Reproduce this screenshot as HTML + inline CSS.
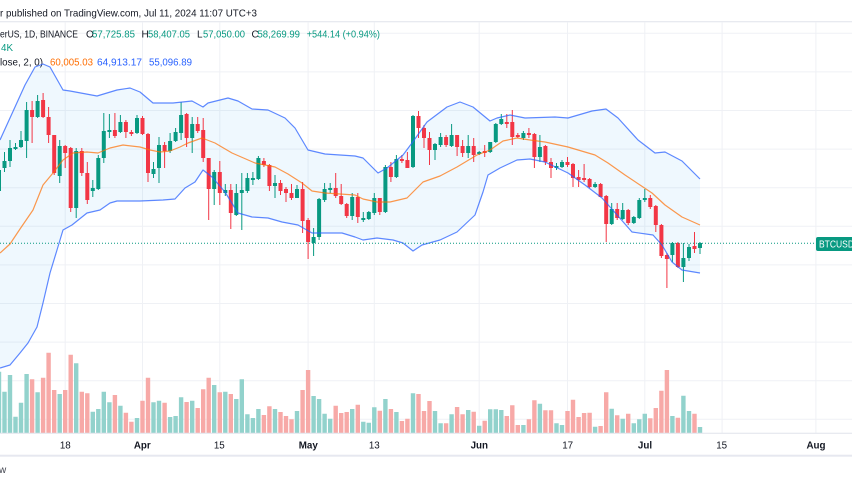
<!DOCTYPE html>
<html><head><meta charset="utf-8"><style>
html,body{margin:0;padding:0;background:#fff;width:852px;height:485px;overflow:hidden}
svg{display:block;font-family:"Liberation Sans",Arial,sans-serif}
</style></head><body>
<svg width="852" height="485" viewBox="0 0 852 485" xmlns="http://www.w3.org/2000/svg">
<rect width="852" height="485" fill="#fff"/>
<!-- header -->
<text x="0" y="16.4" font-size="10.2" fill="#131722" textLength="257" lengthAdjust="spacingAndGlyphs">r published on TradingView.com, Jul 11, 2024 11:07 UTC+3</text>
<line x1="0" y1="21.7" x2="852" y2="21.7" stroke="#e0e3eb" stroke-width="1"/>
<!-- grid -->
<g stroke="#eff1f5" stroke-width="1">
<line x1="0" y1="33.3" x2="852" y2="33.3"/><line x1="0" y1="71.9" x2="852" y2="71.9"/><line x1="0" y1="110.5" x2="852" y2="110.5"/><line x1="0" y1="149.1" x2="852" y2="149.1"/><line x1="0" y1="187.7" x2="852" y2="187.7"/><line x1="0" y1="226.3" x2="852" y2="226.3"/><line x1="0" y1="264.9" x2="852" y2="264.9"/><line x1="0" y1="303.5" x2="852" y2="303.5"/><line x1="0" y1="342.1" x2="852" y2="342.1"/><line x1="0" y1="380.7" x2="852" y2="380.7"/><line x1="0" y1="419.3" x2="852" y2="419.3"/>
<line x1="65.2" y1="22" x2="65.2" y2="433"/><line x1="142.5" y1="22" x2="142.5" y2="433"/><line x1="219.8" y1="22" x2="219.8" y2="433"/><line x1="308.1" y1="22" x2="308.1" y2="433"/><line x1="374.3" y1="22" x2="374.3" y2="433"/><line x1="479.2" y1="22" x2="479.2" y2="433"/><line x1="567.5" y1="22" x2="567.5" y2="433"/><line x1="644.8" y1="22" x2="644.8" y2="433"/><line x1="722.1" y1="22" x2="722.1" y2="433"/><line x1="815.9" y1="22" x2="815.9" y2="433"/>
</g>
<!-- header rows -->
<g font-size="10">
<text x="0" y="37.6" fill="#131722" textLength="78" lengthAdjust="spacingAndGlyphs">erUS, 1D, BINANCE</text>
<text x="86" y="37.6" fill="#131722">O</text><text x="92" y="37.6" fill="#089981" textLength="43" lengthAdjust="spacingAndGlyphs">57,725.85</text>
<text x="141.5" y="37.6" fill="#131722">H</text><text x="148" y="37.6" fill="#089981" textLength="42" lengthAdjust="spacingAndGlyphs">58,407.05</text>
<text x="197" y="37.6" fill="#131722">L</text><text x="203" y="37.6" fill="#089981" textLength="42" lengthAdjust="spacingAndGlyphs">57,050.00</text>
<text x="251.5" y="37.6" fill="#131722">C</text><text x="257.5" y="37.6" fill="#089981" textLength="42.5" lengthAdjust="spacingAndGlyphs">58,269.99</text>
<text x="306.7" y="37.6" fill="#089981" textLength="73.3" lengthAdjust="spacingAndGlyphs">+544.14 (+0.94%)</text>
<text x="1" y="50.9" fill="#089981" textLength="12" lengthAdjust="spacingAndGlyphs">4K</text>
<text x="0" y="65.3" fill="#131722" textLength="43" lengthAdjust="spacingAndGlyphs">lose, 2, 0)</text>
<text x="50" y="65.3" fill="#ff6d00" textLength="43" lengthAdjust="spacingAndGlyphs">60,005.03</text>
<text x="97" y="65.3" fill="#2962ff" textLength="45" lengthAdjust="spacingAndGlyphs">64,913.17</text>
<text x="149" y="65.3" fill="#2962ff" textLength="43" lengthAdjust="spacingAndGlyphs">55,096.89</text>
</g>
<!-- band fill -->
<polygon fill="#2196f3" fill-opacity="0.07" points="0,140 10,118 25,85 35,67 43,64 50,67 63,90 70,91 97,96 117,90 130,88 140,92 153,103 173,103 192,101 203,107 208,103 228,98 238,101 252,109 268,110 285,118 295,128 308,150 325,154 355,156 363,158 378,173 387,168 403,155 412,143 427,122 447,107 460,102 473,107 490,121 497,118 510,115 525,118 555,117 568,118 592,111 606,109 618,118 638,140 655,153 665,152 682,161 700,179 700,273 682,270 672,262 662,245 653,235 632,232 618,216 602,198 585,185 568,173 545,162 530,159 517,160 500,168 488,175 483,192 475,215 457,232 440,240 422,245 413,251 403,243 393,240 377,238 363,240 355,237 342,233 312,233 298,225 282,222 268,218 252,217 238,213 225,192 212,177 203,170 195,182 185,188 175,199 163,200 140,201 117,201 110,203 100,210 87,213 72,225 63,230 57,250 50,273 43,303 37,327 28,343 20,353 10,365 0,368"/>
<!-- volume -->
<path fill="#92d2cc" d="M-3.2 371.7h4.4V433h-4.4Z M2.3 391.7h4.4V433h-4.4Z M7.8 375h4.4V433h-4.4Z M13.3 416.7h4.4V433h-4.4Z M18.8 402.7h4.4V433h-4.4Z M24.4 374h4.4V433h-4.4Z M35.4 392.3h4.4V433h-4.4Z M57.5 394h4.4V433h-4.4Z M74 363.3h4.4V433h-4.4Z M90.6 411.7h4.4V433h-4.4Z M96.1 409h4.4V433h-4.4Z M101.6 391.7h4.4V433h-4.4Z M107.2 402.3h4.4V433h-4.4Z M118.2 405.7h4.4V433h-4.4Z M134.8 418h4.4V433h-4.4Z M151.3 402.3h4.4V433h-4.4Z M156.8 400.7h4.4V433h-4.4Z M167.9 417h4.4V433h-4.4Z M173.4 416h4.4V433h-4.4Z M178.9 397.3h4.4V433h-4.4Z M190 400.7h4.4V433h-4.4Z M212 385h4.4V433h-4.4Z M223.1 391.7h4.4V433h-4.4Z M234.1 399h4.4V433h-4.4Z M239.6 379.3h4.4V433h-4.4Z M245.2 414.3h4.4V433h-4.4Z M250.7 418h4.4V433h-4.4Z M256.2 409h4.4V433h-4.4Z M272.8 409h4.4V433h-4.4Z M294.8 411h4.4V433h-4.4Z M311.4 396h4.4V433h-4.4Z M316.9 399h4.4V433h-4.4Z M322.4 413.7h4.4V433h-4.4Z M328 418.7h4.4V433h-4.4Z M350 409h4.4V433h-4.4Z M361.1 421.7h4.4V433h-4.4Z M366.6 422.7h4.4V433h-4.4Z M372.1 407.3h4.4V433h-4.4Z M383.2 399h4.4V433h-4.4Z M394.2 412h4.4V433h-4.4Z M410.8 393.3h4.4V433h-4.4Z M432.8 411h4.4V433h-4.4Z M438.4 423.3h4.4V433h-4.4Z M449.4 414.3h4.4V433h-4.4Z M466 410h4.4V433h-4.4Z M477 425.7h4.4V433h-4.4Z M488 409.3h4.4V433h-4.4Z M493.6 409.3h4.4V433h-4.4Z M499.1 410h4.4V433h-4.4Z M521.2 425h4.4V433h-4.4Z M537.7 403.7h4.4V433h-4.4Z M554.3 423.3h4.4V433h-4.4Z M559.8 425h4.4V433h-4.4Z M592.9 426.7h4.4V433h-4.4Z M609.5 408.7h4.4V433h-4.4Z M620.5 418.7h4.4V433h-4.4Z M631.6 423.3h4.4V433h-4.4Z M637.1 419.3h4.4V433h-4.4Z M642.6 413.7h4.4V433h-4.4Z M670.2 416h4.4V433h-4.4Z M681.2 395.7h4.4V433h-4.4Z M686.8 411h4.4V433h-4.4Z M697.8 427h4.4V433h-4.4Z"/>
<path fill="#f7a9a7" d="M29.9 379.3h4.4V433h-4.4Z M40.9 377.7h4.4V433h-4.4Z M46.4 352.7h4.4V433h-4.4Z M52 390h4.4V433h-4.4Z M63 390h4.4V433h-4.4Z M68.5 354.7h4.4V433h-4.4Z M79.6 391.7h4.4V433h-4.4Z M85.1 393.3h4.4V433h-4.4Z M112.7 395h4.4V433h-4.4Z M123.7 412.7h4.4V433h-4.4Z M129.2 421.7h4.4V433h-4.4Z M140.3 400.7h4.4V433h-4.4Z M145.8 377.7h4.4V433h-4.4Z M162.4 402.7h4.4V433h-4.4Z M184.4 402h4.4V433h-4.4Z M195.5 408h4.4V433h-4.4Z M201 389.3h4.4V433h-4.4Z M206.5 377.7h4.4V433h-4.4Z M217.6 392.3h4.4V433h-4.4Z M228.6 394h4.4V433h-4.4Z M261.7 415h4.4V433h-4.4Z M267.2 406.3h4.4V433h-4.4Z M278.3 412h4.4V433h-4.4Z M283.8 416h4.4V433h-4.4Z M289.3 419.3h4.4V433h-4.4Z M300.4 390h4.4V433h-4.4Z M305.9 370h4.4V433h-4.4Z M333.5 405.7h4.4V433h-4.4Z M339 413h4.4V433h-4.4Z M344.5 412h4.4V433h-4.4Z M355.6 404.7h4.4V433h-4.4Z M377.6 410.7h4.4V433h-4.4Z M388.7 409h4.4V433h-4.4Z M399.7 421h4.4V433h-4.4Z M405.2 418.7h4.4V433h-4.4Z M416.3 394h4.4V433h-4.4Z M421.8 411h4.4V433h-4.4Z M427.3 401h4.4V433h-4.4Z M443.9 423.3h4.4V433h-4.4Z M454.9 407h4.4V433h-4.4Z M460.4 414.3h4.4V433h-4.4Z M471.5 411.7h4.4V433h-4.4Z M482.5 420.7h4.4V433h-4.4Z M504.6 416h4.4V433h-4.4Z M510.1 405.3h4.4V433h-4.4Z M515.6 425h4.4V433h-4.4Z M526.7 419.3h4.4V433h-4.4Z M532.2 400.3h4.4V433h-4.4Z M543.2 410.3h4.4V433h-4.4Z M548.8 410.3h4.4V433h-4.4Z M565.3 411h4.4V433h-4.4Z M570.8 399.7h4.4V433h-4.4Z M576.4 417h4.4V433h-4.4Z M581.9 413h4.4V433h-4.4Z M587.4 412.7h4.4V433h-4.4Z M598.4 426h4.4V433h-4.4Z M604 392.3h4.4V433h-4.4Z M615 415.3h4.4V433h-4.4Z M626 413.7h4.4V433h-4.4Z M648.1 418.3h4.4V433h-4.4Z M653.6 408h4.4V433h-4.4Z M659.2 390.7h4.4V433h-4.4Z M664.7 370h4.4V433h-4.4Z M675.7 417.7h4.4V433h-4.4Z M692.3 413.7h4.4V433h-4.4Z"/>
<!-- candles -->
<path fill="none" stroke="#089981" stroke-width="1" d="M-1 165V192 M4.5 152V172 M10 140V167 M15.5 143V150 M21 131V148 M26.6 102V158 M37.6 95V118 M59.7 140V183 M76.2 148V218 M92.8 180V197 M98.3 155V190 M103.8 113V163 M109.4 114V138 M120.4 115V133 M137 115V134 M153.5 162V178 M159 137V183 M170.1 133V153 M175.6 128V142 M181.1 102V140 M192.2 117V153 M214.2 170V205 M225.3 184V196 M236.3 184V216 M241.8 173V230 M247.4 173V193 M252.9 172V185 M258.4 156V180 M275 175V198 M297 185V198 M313.6 228V256 M319.1 198V240 M324.6 183V202 M330.2 183V193 M352.2 193V220 M363.3 212V222 M368.8 211V220 M374.3 193V215 M385.4 165V213 M396.4 155V178 M413 115V168 M435 143V160 M440.6 133V147 M451.6 124V147 M468.2 135V158 M479.2 151V155 M490.2 142V153 M495.8 123V143 M501.3 114V125 M523.4 131V140 M539.9 135V162 M556.5 163V170 M562 160V168 M595.1 182V188 M611.7 203V225 M622.7 203V220 M633.8 216V224 M639.3 198V219 M644.8 189V202 M672.4 242V262 M683.4 243V282 M689 244V261 M700 242V254"/>
<path fill="#089981" d="M-3 170h4V191h-4Z M2.5 161h4V168h-4Z M8 148h4V161h-4Z M13.5 147h4V149h-4Z M19 140h4V147h-4Z M24.6 110h4V141h-4Z M35.6 101h4V117h-4Z M57.7 146h4V176h-4Z M74.2 151h4V208h-4Z M90.8 188h4V191h-4Z M96.3 158h4V189h-4Z M101.8 131h4V158h-4Z M107.4 130h4V132h-4Z M118.4 122h4V132h-4Z M135 118h4V133h-4Z M151.5 169h4V174h-4Z M157 145h4V168h-4Z M168.1 141h4V151h-4Z M173.6 132h4V141h-4Z M179.1 115h4V133h-4Z M190.2 124h4V138h-4Z M212.2 172h4V189h-4Z M223.3 190h4V193h-4Z M234.3 193h4V215h-4Z M239.8 190h4V193h-4Z M245.4 178h4V191h-4Z M250.9 178h4V180h-4Z M256.4 158h4V179h-4Z M273 183h4V186h-4Z M295 189h4V198h-4Z M311.6 237h4V243h-4Z M317.1 199h4V237h-4Z M322.6 189h4V200h-4Z M328.2 188h4V190h-4Z M350.2 197h4V216h-4Z M361.3 218h4V220h-4Z M366.8 212h4V219h-4Z M372.3 198h4V213h-4Z M383.4 167h4V212h-4Z M394.4 159h4V177h-4Z M411 116h4V167h-4Z M433 144h4V150h-4Z M438.6 137h4V145h-4Z M449.6 135h4V146h-4Z M466.2 146h4V153h-4Z M477.2 152h4V154h-4Z M488.2 142h4V152h-4Z M493.8 124h4V142h-4Z M499.3 119h4V124h-4Z M521.4 133h4V138h-4Z M537.9 147h4V157h-4Z M554.5 166h4V168h-4Z M560 162h4V167h-4Z M593.1 184h4V187h-4Z M609.7 209h4V224h-4Z M620.7 210h4V219h-4Z M631.8 217h4V223h-4Z M637.3 200h4V218h-4Z M642.8 198h4V200h-4Z M670.4 243h4V255h-4Z M681.4 258h4V267h-4Z M687 247h4V258h-4Z M698 243h4V248h-4Z"/>
<path fill="none" stroke="#f23645" stroke-width="1" d="M32.1 101V143 M43.1 93V118 M48.6 107V143 M54.2 135V175 M65.2 145V168 M70.7 147V212 M81.8 148V176 M87.3 162V204 M114.9 113V138 M125.9 120V138 M131.4 130V136 M142.5 116V135 M148 133V182 M164.6 142V168 M186.6 113V147 M197.7 117V133 M203.2 118V162 M208.7 158V220 M219.8 161V205 M230.8 184V229 M263.9 158V167 M269.4 164V191 M280.5 180V195 M286 187V202 M291.5 184V200 M302.6 182V233 M308.1 218V259 M335.7 173V198 M341.2 184V205 M346.7 203V218 M357.8 193V223 M379.8 198V215 M390.9 162V182 M401.9 155V163 M407.4 152V168 M418.5 111V138 M424 125V148 M429.5 132V165 M446.1 135V147 M457.1 135V156 M462.6 140V157 M473.7 138V162 M484.7 145V157 M506.8 114V128 M512.3 110V145 M517.8 133V138 M528.9 128V138 M534.4 133V168 M545.4 145V165 M551 158V178 M567.5 157V167 M573 163V187 M578.6 170V187 M584.1 164V182 M589.6 178V188 M600.6 183V197 M606.2 195V242 M617.2 203V220 M628.2 209V225 M650.3 195V209 M655.8 205V232 M661.4 224V258 M666.9 253V288 M677.9 242V268 M694.5 232V253"/>
<path fill="#f23645" d="M30.1 110h4V117h-4Z M41.1 100h4V117h-4Z M46.6 117h4V135h-4Z M52.2 135h4V173h-4Z M63.2 146h4V153h-4Z M68.7 148h4V208h-4Z M79.8 151h4V173h-4Z M85.3 173h4V200h-4Z M112.9 130h4V136h-4Z M123.9 122h4V132h-4Z M129.4 132h4V134h-4Z M140.5 118h4V134h-4Z M146 134h4V173h-4Z M162.6 145h4V151h-4Z M184.6 114h4V138h-4Z M195.7 124h4V131h-4Z M201.2 130h4V158h-4Z M206.7 158h4V189h-4Z M217.8 172h4V193h-4Z M228.8 190h4V213h-4Z M261.9 161h4V165h-4Z M267.4 165h4V186h-4Z M278.5 183h4V191h-4Z M284 189h4V193h-4Z M289.5 193h4V198h-4Z M300.6 189h4V221h-4Z M306.1 220h4V242h-4Z M333.7 188h4V196h-4Z M339.2 196h4V204h-4Z M344.7 204h4V216h-4Z M355.8 197h4V217h-4Z M377.8 198h4V212h-4Z M388.9 167h4V177h-4Z M399.9 159h4V161h-4Z M405.4 160h4V168h-4Z M416.5 116h4V128h-4Z M422 128h4V138h-4Z M427.5 138h4V150h-4Z M444.1 137h4V145h-4Z M455.1 135h4V147h-4Z M460.6 146h4V153h-4Z M471.7 146h4V155h-4Z M482.7 151h4V153h-4Z M504.8 122h4V124h-4Z M510.3 122h4V137h-4Z M515.8 135h4V137h-4Z M526.9 133h4V135h-4Z M532.4 134h4V157h-4Z M543.4 146h4V162h-4Z M549 162h4V168h-4Z M565.5 162h4V165h-4Z M571 164h4V178h-4Z M576.6 177h4V180h-4Z M582.1 178h4V180h-4Z M587.6 179h4V187h-4Z M598.6 184h4V197h-4Z M604.2 196h4V224h-4Z M615.2 209h4V218h-4Z M626.2 210h4V223h-4Z M648.3 198h4V207h-4Z M653.8 206h4V225h-4Z M659.4 225h4V256h-4Z M664.9 255h4V259h-4Z M675.9 243h4V267h-4Z M692.5 246h4V249h-4Z"/>
<!-- bands -->
<g fill="none" stroke-width="1.2" stroke-linejoin="round">
<polyline stroke="#2962ff" stroke-opacity="0.75" points="0,140 10,118 25,85 35,67 43,64 50,67 63,90 70,91 97,96 117,90 130,88 140,92 153,103 173,103 192,101 203,107 208,103 228,98 238,101 252,109 268,110 285,118 295,128 308,150 325,154 355,156 363,158 378,173 387,168 403,155 412,143 427,122 447,107 460,102 473,107 490,121 497,118 510,115 525,118 555,117 568,118 592,111 606,109 618,118 638,140 655,153 665,152 682,161 700,179"/>
<polyline stroke="#2962ff" stroke-opacity="0.75" points="0,368 10,365 20,353 28,343 37,327 43,303 50,273 57,250 63,230 72,225 87,213 100,210 110,203 117,201 140,201 163,200 175,199 185,188 195,182 203,170 212,177 225,192 238,213 252,217 268,218 282,222 298,225 312,233 342,233 355,237 363,240 377,238 393,240 403,243 413,251 422,245 440,240 457,232 475,215 483,192 488,175 500,168 517,160 530,159 545,162 568,173 585,185 602,198 618,216 632,232 653,235 662,245 672,262 682,270 700,273"/>
<polyline stroke="#ff6d00" stroke-opacity="0.7" points="0,253 10,244 20,229 33,210 43,185 53,173 63,160 73,153 87,152 98,153 110,148 123,145 140,147 150,150 160,152 170,151 180,147 188,143 202,138 215,143 232,153 255,163 275,167 288,174 302,183 312,191 325,193 355,195 363,199 377,202 390,202 407,198 423,182 440,176 457,167 477,155 490,150 503,141 517,138 530,140 545,142 568,147 595,155 608,163 625,175 640,185 652,193 665,205 682,217 700,225"/>
</g>
<!-- price line & label -->
<line x1="0" y1="243.3" x2="816" y2="243.3" stroke="#089981" stroke-width="1" stroke-dasharray="1 2"/>
<rect x="816" y="237" width="40" height="14" rx="2" fill="#089981"/>
<text x="819" y="247.6" font-size="9.8" fill="#fff" textLength="35" lengthAdjust="spacingAndGlyphs">BTCUSD</text>
<!-- time axis -->
<line x1="0" y1="433.3" x2="852" y2="433.3" stroke="#e0e3eb" stroke-width="1"/>
<g font-size="9.8" fill="#131722" text-anchor="middle">
<text x="65.3" y="448.5">18</text>
<text x="142.3" y="448.5" font-weight="bold">Apr</text>
<text x="219.3" y="448.5">15</text>
<text x="308.3" y="448.5" font-weight="bold">May</text>
<text x="374.3" y="448.5">13</text>
<text x="479.3" y="448.5" font-weight="bold">Jun</text>
<text x="567.7" y="448.5">17</text>
<text x="645" y="448.5" font-weight="bold">Jul</text>
<text x="721.7" y="448.5">15</text>
<text x="816" y="448.5" font-weight="bold">Aug</text>
</g>
<rect x="0" y="454.7" width="852" height="2" fill="#e6e8f0"/>
<text x="-1" y="473" font-size="10" fill="#434651">w</text>
</svg>
</body></html>
